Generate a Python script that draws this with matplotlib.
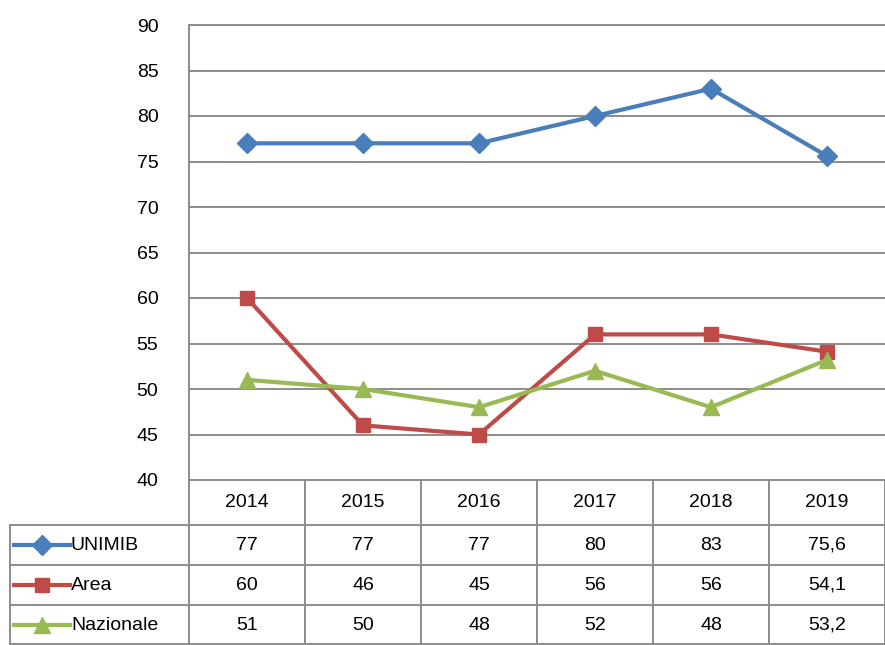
import matplotlib
matplotlib.use('Agg')
import matplotlib.pyplot as plt
from matplotlib.lines import Line2D

years = ['2014', '2015', '2016', '2017', '2018', '2019']
unimib = [77, 77, 77, 80, 83, 75.6]
area = [60, 46, 45, 56, 56, 54.1]
nazionale = [51, 50, 48, 52, 48, 53.2]
series_names = ['UNIMIB', 'Area', 'Nazionale']
series_values = [unimib, area, nazionale]
series_labels = [['77', '77', '77', '80', '83', '75,6'],
                 ['60', '46', '45', '56', '56', '54,1'],
                 ['51', '50', '48', '52', '48', '53,2']]

colors = ['#4A7EBB', '#BE4B48', '#98B954']
markers = ['D', 's', '^']
msizes = [10, 10, 11]
grid_c = '#8C8C8C'
fs = 14

plt.rcParams['font.family'] = ['Liberation Sans', 'DejaVu Sans']

W, H = 885, 645
fig = plt.figure(figsize=(W / 100, H / 100), dpi=100)

# pixel layout
left, right, top, bottom = 189, 885, 25, 480
row_h = [45, 40, 40, 40]
key_left = 10

ax = fig.add_axes([left / W, 1 - bottom / H, (right - left) / W, (bottom - top) / H])
x = range(len(years))
for vals, c, m, ms in zip(series_values, colors, markers, msizes):
    ax.plot(x, vals, color=c, marker=m, markersize=ms, linewidth=3,
            markeredgecolor=c, zorder=3)

ax.set_xlim(-0.5, len(years) - 0.5)
ax.set_ylim(40, 90)
ax.set_yticks(range(40, 91, 5))
ax.set_xticks([])
ax.yaxis.grid(True, color=grid_c, linewidth=1.4)
ax.set_axisbelow(True)
ax.tick_params(axis='y', length=0, labelsize=fs, pad=22)
for s in ['right', 'bottom']:
    ax.spines[s].set_visible(False)
for s in ['left', 'top']:
    ax.spines[s].set_color(grid_c)
    ax.spines[s].set_linewidth(1.4)


def fx(px):
    return px / W


def fy(py):
    return 1 - py / H


def line(x0, y0, x1, y1):
    fig.add_artist(Line2D([fx(x0), fx(x1)], [fy(y0), fy(y1)], color=grid_c, linewidth=1.4))


col_w = (right - left) / len(years)
y_edges = [bottom]
for h in row_h:
    y_edges.append(y_edges[-1] + h)

# horizontal table lines
line(left, y_edges[0], right, y_edges[0])
for ye in y_edges[1:-1]:
    line(key_left, ye, right, ye)
line(key_left, y_edges[-1] - 1, right, y_edges[-1] - 1)
# vertical lines
for i in range(len(years) + 1):
    xe = left + i * col_w
    line(xe, y_edges[0], xe, y_edges[-1])
line(key_left, y_edges[1], key_left, y_edges[-1])

# header
for i, yr in enumerate(years):
    cx = left + (i + 0.5) * col_w
    fig.text(fx(cx), fy((y_edges[0] + y_edges[1]) / 2), yr, ha='center', va='center', fontsize=fs)

# rows
for r, (name, labs, c, m, ms) in enumerate(zip(series_names, series_labels, colors, markers, msizes)):
    cy = (y_edges[r + 1] + y_edges[r + 2]) / 2
    fig.add_artist(Line2D([fx(14), fx(70)], [fy(cy), fy(cy)], color=c, linewidth=3))
    fig.add_artist(Line2D([fx(42)], [fy(cy)], color=c, marker=m, markersize=ms, markeredgecolor=c))
    fig.text(fx(71), fy(cy), name, ha='left', va='center', fontsize=fs)
    for i, lab in enumerate(labs):
        cx = left + (i + 0.5) * col_w
        fig.text(fx(cx), fy(cy), lab, ha='center', va='center', fontsize=fs)

fig.savefig('out.png', dpi=100)
